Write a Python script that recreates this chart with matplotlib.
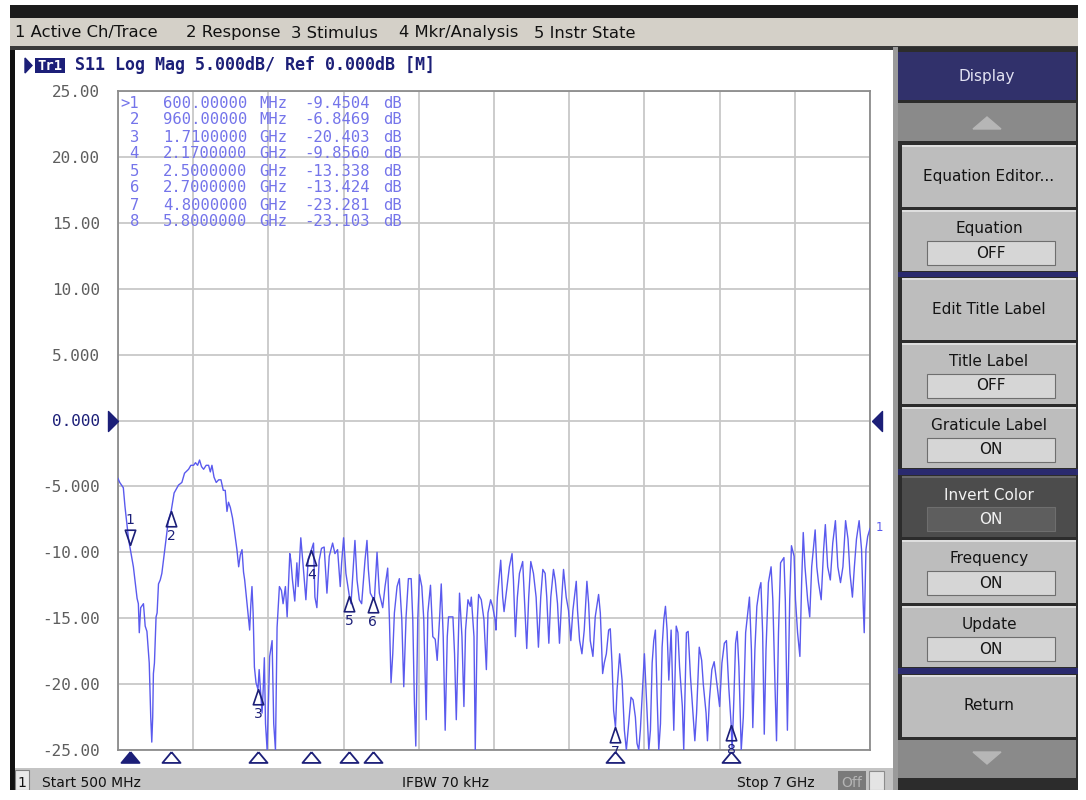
import numpy as np
import matplotlib.pyplot as plt
from matplotlib.patches import Rectangle, Polygon
import matplotlib.transforms as mtransforms

# S11 trace (GHz, dB)
freq_ghz = [
    0.500, 0.515, 0.546, 0.560, 0.590, 0.600, 0.633, 0.665, 0.676, 0.684, 0.696, 0.720, 0.735, 0.750,
    0.770, 0.783, 0.792, 0.800, 0.806, 0.815, 0.829, 0.838, 0.850, 0.865, 0.879, 0.907, 0.935, 0.960,
    0.985, 1.023, 1.052, 1.075, 1.110, 1.130, 1.153, 1.170, 1.188, 1.205, 1.222, 1.240, 1.262, 1.283,
    1.298, 1.312, 1.330, 1.349, 1.370, 1.390, 1.410, 1.427, 1.442, 1.455, 1.471, 1.490, 1.505, 1.528,
    1.543, 1.557, 1.572, 1.585, 1.595, 1.615, 1.638, 1.648, 1.658, 1.668, 1.679, 1.693, 1.710, 1.720,
    1.731, 1.745, 1.755, 1.765, 1.775, 1.789, 1.800, 1.811, 1.832, 1.846, 1.861, 1.875, 1.895, 1.913,
    1.927, 1.947, 1.962, 1.985,
    1.994, 2.008, 2.028, 2.046, 2.057, 2.080, 2.103, 2.124, 2.144, 2.170, 2.190, 2.202, 2.219, 2.239,
    2.259, 2.282, 2.306, 2.326, 2.355, 2.375, 2.398, 2.421, 2.433, 2.450, 2.470, 2.500, 2.514, 2.548,
    2.566, 2.586, 2.606, 2.635, 2.652, 2.664, 2.681, 2.700, 2.716, 2.739, 2.759, 2.788, 2.808, 2.831,
    2.846, 2.860, 2.875, 2.889, 2.912, 2.932, 2.953, 2.970, 2.990, 3.010, 3.034, 3.048, 3.062, 3.074,
    3.091, 3.106, 3.126, 3.143, 3.164, 3.178, 3.201, 3.221, 3.242, 3.259, 3.279, 3.294, 3.311, 3.328,
    3.346, 3.357, 3.395, 3.409, 3.424, 3.452, 3.473, 3.490, 3.504, 3.525, 3.545, 3.554, 3.577, 3.588,
    3.606, 3.617, 3.640, 3.663, 3.684, 3.698, 3.721,
    3.738, 3.759, 3.767, 3.779, 3.796, 3.808, 3.825, 3.837, 3.860, 3.883, 3.906, 3.918, 3.935, 3.952,
    3.970, 3.998, 4.019, 4.033, 4.050, 4.068, 4.091, 4.114, 4.134, 4.154, 4.172, 4.192, 4.206, 4.224,
    4.241, 4.264, 4.279, 4.299, 4.316, 4.336, 4.351, 4.374, 4.394, 4.414, 4.432, 4.461, 4.472, 4.490,
    4.510, 4.530, 4.553, 4.568, 4.582, 4.605, 4.625, 4.654, 4.669, 4.689, 4.703, 4.721, 4.741, 4.755,
    4.770, 4.784, 4.800, 4.813, 4.836, 4.857, 4.877, 4.894, 4.914, 4.934, 4.952, 4.972, 4.986, 5.001,
    5.015, 5.038, 5.050, 5.067, 5.088, 5.102, 5.117, 5.131, 5.145, 5.160, 5.174, 5.189, 5.203, 5.218,
    5.232, 5.246, 5.261, 5.281, 5.304,
    5.325, 5.340, 5.354, 5.378, 5.390, 5.413, 5.428, 5.448, 5.466, 5.486, 5.501, 5.524, 5.545, 5.559,
    5.583, 5.595, 5.612, 5.633, 5.653, 5.677, 5.700, 5.720, 5.741, 5.759, 5.779, 5.800, 5.808, 5.823,
    5.838, 5.852, 5.867, 5.887, 5.905, 5.925, 5.946, 5.958, 5.975, 5.987, 6.005, 6.022, 6.043, 6.057,
    6.072, 6.086, 6.101, 6.122, 6.145, 6.160, 6.180, 6.192, 6.209, 6.227, 6.256, 6.268, 6.286, 6.306,
    6.321, 6.344, 6.356, 6.374, 6.394, 6.409, 6.423, 6.438, 6.461, 6.479, 6.496, 6.526, 6.540, 6.555,
    6.578, 6.599, 6.614, 6.634, 6.657, 6.678, 6.701, 6.722, 6.745, 6.766, 6.789, 6.810, 6.827, 6.848,
    6.865, 6.883, 6.906, 6.927, 6.941, 6.950, 6.965, 6.980, 7.000,
]
s11_db = [
    -4.4, -4.7, -5.1, -6.5, -8.9, -9.45, -11.1, -13.5, -13.9, -16.1, -14.2, -13.9, -15.6, -16.0,
    -18.4, -22.5, -24.4, -22.5, -19.2, -18.4, -14.9, -14.6, -12.4, -12.1, -11.6, -9.6, -7.6, -6.85,
    -5.5, -4.9, -4.7, -4.0, -3.7, -3.4, -3.4, -3.2, -3.4, -3.0, -3.5, -3.7, -3.4, -3.4,
    -3.9, -3.4, -4.3, -4.7, -4.5, -4.5, -5.3, -5.3, -6.9, -6.2, -6.6, -7.4, -8.3, -9.8,
    -11.1, -10.2, -9.8, -11.5, -12.1, -13.9, -15.9, -14.0, -12.6, -14.6, -18.7, -19.9, -20.4, -18.9,
    -20.4, -22.2, -20.4, -18.0, -23.0, -25.0, -21.5, -17.9, -16.7, -23.0, -25.0, -15.7, -12.6, -12.9,
    -13.9, -12.6, -14.9, -10.1,
    -10.6, -12.1, -13.7, -10.8, -12.6, -8.9, -11.3, -13.6, -10.5, -9.86, -9.3, -13.4, -14.2, -10.6,
    -9.7, -9.6, -13.1, -10.3, -9.3, -10.1, -9.8, -12.6, -10.8, -8.9, -11.6, -13.34, -13.9, -9.1,
    -12.1, -13.6, -13.9, -10.6, -9.1, -11.3, -13.1, -13.42, -13.6, -10.0, -13.1, -14.2, -12.6, -11.2,
    -15.1, -19.9, -17.7, -14.6, -12.6, -12.0, -15.1, -20.2, -14.9, -12.0, -12.0, -15.1, -21.4, -24.7,
    -15.1, -11.7, -12.6, -15.1, -22.7, -14.6, -12.5, -16.4, -16.6, -18.2, -15.1, -12.4, -16.4, -23.5,
    -16.4, -14.9, -14.9, -17.7, -22.7, -13.1, -16.4, -21.7, -15.9, -13.6, -14.1, -13.4, -16.4, -25.0,
    -15.1, -13.2, -13.6, -15.1, -18.9, -14.6, -13.6,
    -14.1, -15.1, -15.9, -13.4, -11.8, -10.6, -13.4, -14.5, -12.8, -11.1, -10.1, -12.1, -16.4, -13.4,
    -11.6, -10.7, -14.6, -17.3, -13.4, -10.7, -11.6, -13.4, -17.2, -13.4, -11.3, -11.6, -13.4, -16.9,
    -13.4, -11.3, -12.1, -13.9, -16.9, -13.4, -11.3, -13.4, -14.4, -16.7, -14.4, -12.2, -14.4, -16.7,
    -17.7, -15.9, -12.2, -13.9, -16.7, -17.9, -14.9, -13.2, -14.6, -19.2, -18.4, -17.7, -15.9, -15.8,
    -18.4, -22.0, -23.28, -20.5, -17.7, -19.7, -23.5, -25.0, -23.0, -21.0, -21.2, -22.5, -24.5, -25.0,
    -23.5, -19.7, -17.7, -21.0, -25.0, -23.5, -18.4, -16.7, -15.9, -21.0, -25.0, -23.0, -17.2, -15.1,
    -14.1, -15.9, -19.7, -15.9, -23.5,
    -15.6, -16.1, -18.7, -21.7, -25.0, -16.1, -16.0, -19.4, -21.7, -24.3, -22.2, -17.2, -18.2, -20.0,
    -22.2, -24.3, -21.2, -18.9, -18.3, -20.0, -21.7, -18.4, -16.9, -16.7, -20.2, -23.1, -25.0, -21.2,
    -16.9, -16.0, -18.7, -25.0, -22.5, -16.1, -14.4, -13.4, -17.4, -23.3, -17.4, -14.1, -12.8, -12.3,
    -16.1, -23.8, -17.4, -12.3, -11.1, -13.6, -20.5, -24.3, -16.1, -10.8, -10.4, -13.6, -23.5, -13.6,
    -9.5, -10.3, -13.6, -16.1, -17.9, -12.3, -8.5, -11.1, -13.6, -14.9, -11.1, -8.3, -11.1, -12.3,
    -13.6, -9.8, -7.9, -11.1, -12.1, -9.3, -7.6, -11.1, -12.3, -11.1, -7.6, -9.0, -11.6, -13.4,
    -11.1, -9.0, -7.6, -9.8, -13.9, -16.1, -9.8, -8.8, -8.2,
]

marker_ids = [1, 2, 3, 4, 5, 6, 7, 8]
marker_ghz = [0.60, 0.96, 1.71, 2.17, 2.50, 2.70, 4.80, 5.80]
marker_db = [-9.4504, -6.8469, -20.403, -9.8560, -13.338, -13.424, -23.281, -23.103]
marker_freq_text = ["600.00000", "960.00000", "1.7100000", "2.1700000",
                    "2.5000000", "2.7000000", "4.8000000", "5.8000000"]
marker_unit = ["MHz", "MHz", "GHz", "GHz", "GHz", "GHz", "GHz", "GHz"]

y_ticks = [25, 20, 15, 10, 5, 0, -5, -10, -15, -20, -25]
y_tick_labels = ["25.00", "20.00", "15.00", "10.00", "5.000", "0.000",
                 "-5.000", "-10.00", "-15.00", "-20.00", "-25.00"]
start_ghz, stop_ghz = 0.5, 7.0

menu_items = ["1 Active Ch/Trace", "2 Response", "3 Stimulus", "4 Mkr/Analysis", "5 Instr State"]
softkeys = [("Equation Editor...", None), ("Equation", "OFF"), ("Edit Title Label", None),
            ("Title Label", "OFF"), ("Graticule Label", "ON"), ("Invert Color", "ON"),
            ("Frequency", "ON"), ("Update", "ON"), ("Return", None)]

# %%
W, H = 1086, 800
NAVY = "#1c1f78"
TRACE = "#5a5aee"
TABLE = "#7474ea"
UI = "DejaVu Sans"
MONO = "DejaVu Sans Mono"

fig = plt.figure(figsize=(W / 100, H / 100), dpi=100)
fig.patch.set_facecolor("white")

# background axes in pixel units for the instrument chrome
bg = fig.add_axes([0, 0, 1, 1])
bg.set_xlim(0, W)
bg.set_ylim(H, 0)
bg.axis("off")


def box(x0, y0, x1, y1, color, ec="none", lw=0):
    bg.add_patch(Rectangle((x0, y0), x1 - x0, y1 - y0, facecolor=color, edgecolor=ec, linewidth=lw))


box(10, 5, 1078, 18, "#1c1c1c")
box(10, 18, 1078, 47, "#d4d0c8")
menu_x = [15, 186, 291, 399, 534]
for mx, item in zip(menu_x, menu_items):
    bg.text(mx, 33, item, fontsize=11.8, family=UI, color="#111111", va="center", ha="left")
box(10, 46, 1078, 50, "#3a3a3a")
box(10, 50, 15, 790, "#111111")

# status bar
box(15, 768, 893, 790, "#c4c4c4")
box(15, 770, 29, 790, "#e8e8e8", ec="#808080", lw=0.8)
bg.text(22, 787, "1", fontsize=10, family=UI, color="#111111", ha="center", va="baseline")
bg.text(42, 787, "Start 500 MHz", fontsize=10, family=UI, color="#111111", va="baseline")
bg.text(445, 787, "IFBW 70 kHz", fontsize=10, family=UI, color="#111111", ha="center", va="baseline")
bg.text(815, 787, "Stop 7 GHz", fontsize=10, family=UI, color="#111111", ha="right", va="baseline")
box(838, 771, 866, 790, "#7a7a7a")
bg.text(852, 787, "Off", fontsize=10, family=UI, color="#b4b4b4", ha="center", va="baseline")
box(869, 771, 884, 790, "#e4e4e4", ec="#8c8c8c", lw=0.8)
box(0, 790, W, H, "white")

# softkey panel
box(893, 47, 898, 790, "#9a9a9a")
box(898, 47, 1078, 790, "#2c2c2c")
box(898, 52, 1076, 100, "#31316b")
bg.text(987, 76, "Display", fontsize=11, family=UI, color="#e2e2f2", ha="center", va="center")
box(898, 103, 1076, 141, "#8a8a8a")
bg.add_patch(Polygon([(973, 129), (1001, 129), (987, 117)], closed=True, color="#b6b6b6"))
box(898, 740, 1076, 778, "#8a8a8a")
bg.add_patch(Polygon([(973, 752), (1001, 752), (987, 764)], closed=True, color="#b6b6b6"))
for y0, y1 in [(272, 277), (469, 475), (668, 674)]:
    box(898, y0, 1078, y1, "#2a2a6e")

key_rows = [(145, 207), (210, 271), (278, 340), (343, 404), (407, 468),
            (476, 537), (540, 603), (606, 667), (675, 737)]
for (label, value), (y0, y1) in zip(softkeys, key_rows):
    dark = label == "Invert Color"
    face = "#4c4c4c" if dark else "#bdbdbd"
    txt = "#f2f2f2" if dark else "#141414"
    box(902, y0, 1076, y1, face)
    box(902, y0, 1076, y0 + 2, "#6a6a6a" if dark else "#dedede")
    if value is None:
        bg.text(989, (y0 + y1) / 2, label, fontsize=11, family=UI, color=txt, ha="center", va="center")
    else:
        bg.text(989, y0 + 19, label, fontsize=11, family=UI, color=txt, ha="center", va="center")
        box(927, y0 + 31, 1055, y0 + 55, "#5e5e5e" if dark else "#d6d6d6", ec="#6e6e6e", lw=0.8)
        bg.text(991, y0 + 43, value, fontsize=11, family=UI, color=txt, ha="center", va="center")

# title line
bg.add_patch(Polygon([(25, 58), (25, 73), (32, 65.5)], closed=True, color=NAVY))
box(35, 58, 65, 73, NAVY)
bg.text(50, 65.5, "Tr1", fontsize=10, family=MONO, weight="bold", color="white", ha="center", va="center")
bg.text(75, 65.5, "S11 Log Mag 5.000dB/ Ref 0.000dB [M]", fontsize=12, family=MONO,
        weight="bold", color=NAVY, va="center")

# %%
ax = fig.add_axes([118 / W, 1 - 750 / H, 752 / W, 659 / H])
ax.set_facecolor("white")
ax.set_xlim(start_ghz, stop_ghz)
ax.set_ylim(y_ticks[-1], y_ticks[0])
ax.set_xticks(np.linspace(start_ghz, stop_ghz, 11))
ax.set_xticklabels([])
ax.set_yticks(y_ticks)
ax.set_yticklabels(y_tick_labels, family=MONO, fontsize=11.5, color="#5e5e5e")
ax.tick_params(axis="both", length=0)
ax.tick_params(axis="y", pad=13)
for lbl in ax.get_yticklabels():
    if lbl.get_text() == "0.000":
        lbl.set_color(NAVY)
ax.grid(color="#c8c8c8", lw=1.3)
ax.set_axisbelow(True)
for sp in ax.spines.values():
    sp.set_color("#8c8c8c")
    sp.set_linewidth(1.3)

ax.plot(freq_ghz, s11_db, color=TRACE, lw=1.0, zorder=3)
ax.annotate("1", (freq_ghz[-1], s11_db[-1]), xytext=(4, 1), textcoords="offset points",
            fontsize=8.5, family=UI, color=TRACE, va="center", annotation_clip=False)

# marker symbols on the trace
tri_up = [(0, 0), (-0.34, -1), (0.34, -1), (0, 0)]
tri_down = [(0, 0), (-0.34, 1), (0.34, 1), (0, 0)]
for mid, f, v in zip(marker_ids, marker_ghz, marker_db):
    if mid == 1:
        ax.plot(f, v, marker=tri_down, ms=22, mfc="none", mec=NAVY, mew=1.2, zorder=4)
        ax.annotate(str(mid), (f, v), xytext=(0, 18), textcoords="offset points", fontsize=10,
                    family=UI, color=NAVY, ha="center", va="center")
    else:
        ax.plot(f, v, marker=tri_up, ms=22, mfc="none", mec=NAVY, mew=1.2, zorder=4)
        ax.annotate(str(mid), (f, v), xytext=(0, -18), textcoords="offset points", fontsize=10,
                    family=UI, color=NAVY, ha="center", va="center", annotation_clip=False)

# marker position flags under the graticule
flag = [(0, 0.6), (-1, -0.6), (1, -0.6), (0, 0.6)]
below = mtransforms.blended_transform_factory(ax.transData, ax.transAxes)
for mid, f in zip(marker_ids, marker_ghz):
    ax.plot(f, -0.0106, marker=flag, ms=13, mfc=NAVY if mid == 1 else "white", mec=NAVY,
            mew=1.3, transform=below, clip_on=False, zorder=5)

# reference level arrows
side = mtransforms.blended_transform_factory(ax.transAxes, ax.transData)
ax.plot(0, 0, marker=[(0, 0), (-1, -1), (-1, 1), (0, 0)], ms=14.4, color=NAVY,
        transform=side, clip_on=False, zorder=5)
ax.plot(1 + 2 / 752, 0, marker=[(0, 0), (1, -1), (1, 1), (0, 0)], ms=14.4, color=NAVY,
        transform=side, clip_on=False, zorder=5)

# marker readout table
for i, (mid, fs, unit, v) in enumerate(zip(marker_ids, marker_freq_text, marker_unit, marker_db)):
    y = 103 + 17 * i
    prefix = ">" + str(mid) if i == 0 else str(mid)
    dbs = f"{v:.4f}" if abs(v) < 10 else f"{v:.3f}"
    kw = dict(transform=bg.transData, fontsize=11.2, family=MONO, color=TABLE, va="center",
              clip_on=False, zorder=6)
    ax.text(139, y, prefix, ha="right", **kw)
    ax.text(163, y, fs, ha="left", **kw)
    ax.text(259, y, unit, ha="left", **kw)
    ax.text(304, y, dbs, ha="left", **kw)
    ax.text(383, y, "dB", ha="left", **kw)

fig.savefig("out.png", dpi=100)
